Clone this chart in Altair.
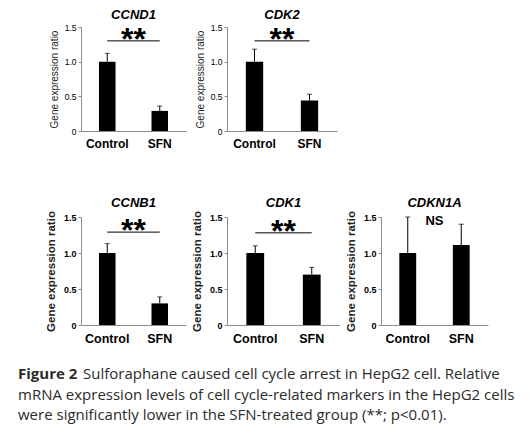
import altair as alt
import pandas as pd

# ---- data ----
genes = ["CCND1", "CDK2", "CCNB1", "CDK1", "CDKN1A"]
groups = ["Control", "SFN"]
control_mean = [1.0, 1.0, 1.0, 1.0, 1.0]
control_err = [0.12, 0.18, 0.13, 0.10, 0.50]
sfn_mean = [0.29, 0.44, 0.30, 0.70, 1.11]
sfn_err = [0.07, 0.09, 0.09, 0.10, 0.29]
sig_label = ["**", "**", "**", "**", "NS"]
sig_line_y = [1.30, 1.30, 1.29, 1.28, None]
sig_label_y = [1.43, 1.43, 1.42, 1.40, 1.44]
y_ticks = [0, 0.5, 1.0, 1.5]
y_title = "Gene expression ratio"
caption_bold = "Figure 2"
caption_first = "Sulforaphane caused cell cycle arrest in HepG2 cell. Relative"
caption_more = [
    "mRNA expression levels of cell cycle-related markers in the HepG2 cells",
    "were significantly lower in the SFN-treated group (**; p<0.01).",
]

FONT = "Liberation Sans"
CAP_FONT = "Open Sans"
CAP_COLOR = "#2b2b2b"


def panel(i, w, h, bottom_row, extra=None):
    df = pd.DataFrame({
        "group": groups,
        "mean": [control_mean[i], sfn_mean[i]],
        "err": [control_err[i], sfn_err[i]],
    })
    df["upper"] = df["mean"] + df["err"]

    xscale = alt.Scale(domain=groups, paddingInner=0.685, paddingOuter=0.3425)
    xaxis = alt.Axis(title=None, labelAngle=0, labelFont=FONT, labelFontWeight="bold",
                     labelFontSize=12.5 if bottom_row else 12, labelColor="black",
                     ticks=False, labelPadding=7, domainColor="#8c8c8c")
    yaxis = alt.Axis(title=y_title, values=y_ticks, labelOverlap=False,
                     labelExpr="datum.value == 0 ? '0' : format(datum.value, '.1f')",
                     grid=False, domainColor="#8c8c8c", tickColor="#8c8c8c", tickSize=3,
                     labelFont=FONT, labelFontSize=9 if bottom_row else 8.5,
                     labelFontWeight="bold" if bottom_row else "normal", labelColor="black",
                     labelPadding=2,
                     titleFont=FONT, titleFontSize=11.5 if bottom_row else 10,
                     titleFontWeight="bold" if bottom_row else "normal", titleColor="#222",
                     titlePadding=7 if bottom_row else 5)
    yscale = alt.Scale(domain=[0, 1.5], nice=False)
    x = alt.X("group:N", sort=groups, scale=xscale, axis=xaxis)

    def Y(field):
        return alt.Y(field, scale=yscale, axis=yaxis)

    base = alt.Chart(df)
    bars = base.mark_bar(color="black").encode(x=x, y=Y("mean:Q"))
    err = base.mark_rule(color="black", strokeWidth=1).encode(
        x=x, y=Y("mean:Q"), y2="upper:Q")
    cap = base.mark_tick(color="black", size=5, thickness=1).encode(
        x=x, y=Y("upper:Q"))
    layers = [bars, err, cap]

    sig = pd.DataFrame({"a": ["Control"], "b": ["SFN"],
                        "ly": [sig_line_y[i]], "ty": [sig_label_y[i]],
                        "label": [sig_label[i]]})
    if sig_line_y[i] is not None:
        layers.append(alt.Chart(sig).mark_rule(color="black", strokeWidth=1).encode(
            x=alt.X("a:N", sort=groups, scale=xscale, axis=xaxis, bandPosition=0.5),
            x2=alt.X2("b:N", bandPosition=0.5),
            y=Y("ly:Q")))
    if sig_label[i] == "NS":
        txt = alt.Chart(sig).mark_text(font=FONT, fontWeight="bold", fontSize=13,
                                       baseline="middle", color="black")
    else:
        txt = alt.Chart(sig).mark_text(font=FONT, fontWeight="bold", fontSize=32,
                                       baseline="alphabetic", dy=18, color="black")
    layers.append(txt.encode(x=alt.value(w / 2), y=Y("ty:Q"), text="label:N"))

    if extra:
        layers.extend(extra)

    return alt.layer(*layers).properties(
        width=w, height=h,
        title=alt.TitleParams(genes[i], font=FONT, fontSize=13, fontWeight="bold",
                              fontStyle="italic", color="black", offset=1))


# caption text, laid out below the bottom-left panel
one = pd.DataFrame({"k": [0]})
CAP_X = -63
CAP_Y0 = 162
CAP_LH = 20.5
cap_bold = alt.Chart(one).mark_text(
    align="left", baseline="alphabetic", font=CAP_FONT, fontSize=15, fontWeight="bold",
    color=CAP_COLOR).encode(x=alt.value(CAP_X), y=alt.value(CAP_Y0),
                            text=alt.value(caption_bold))
cap_first = alt.Chart(one).mark_text(
    align="left", baseline="alphabetic", font=CAP_FONT, fontSize=15, dx=65,
    color=CAP_COLOR).encode(x=alt.value(CAP_X), y=alt.value(CAP_Y0),
                            text=alt.value(caption_first))
cap_more = alt.Chart(one).mark_text(
    align="left", baseline="alphabetic", font=CAP_FONT, fontSize=15, lineHeight=CAP_LH,
    color=CAP_COLOR).encode(x=alt.value(CAP_X), y=alt.value(CAP_Y0 + CAP_LH),
                            text=alt.value(caption_more))

blank = alt.Chart(one).mark_point(opacity=0).encode(
    x=alt.value(0), y=alt.value(0)).properties(width=107, height=104)

chart = alt.concat(
    panel(0, 105, 104, False),
    panel(1, 110, 104, False),
    blank,
    panel(2, 105, 108, True, [cap_bold, cap_first, cap_more]),
    panel(3, 113, 108, True),
    panel(4, 107, 108, True),
    columns=3, spacing={"row": 86, "column": 41}, bounds="flush", align="each",
).properties(padding={"left": 10, "top": 1, "right": 5, "bottom": 5}
).configure_view(stroke=None)

chart.save("out.html", embed_options={"renderer": "svg", "actions": False})
